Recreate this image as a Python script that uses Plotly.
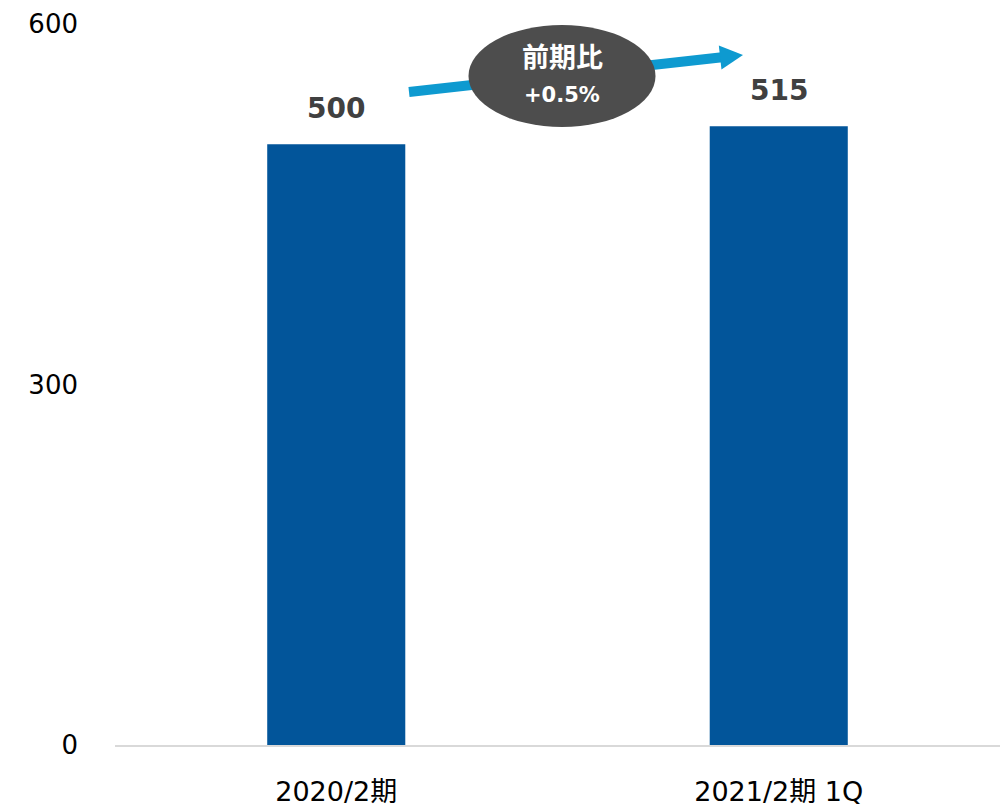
import math
import plotly.graph_objects as go

# Data
periods = ["2020/2期", "2021/2期 1Q"]
values = [500, 515]
y_ticks = [0, 300, 600]
change_title = "前期比"
change_text = "+0.5%"

BAR_COLOR = "#02559A"
LABEL_COLOR = "#404040"
ARROW_COLOR = "#0E9AD0"
BUBBLE_COLOR = "#4D4D4D"
FONT = "Verdana, 'DejaVu Sans', 'Noto Sans CJK JP', sans-serif"

W, H = 1008, 806
ML, MR, MT, MB = 115, 8, 24, 61
PW, PH = W - ML - MR, H - MT - MB


def px(x, y):
    """Pixel position on the page -> paper coordinates."""
    return (x - ML) / PW, (H - MB - y) / PH


fig = go.Figure(
    go.Bar(
        x=periods,
        y=values,
        marker=dict(color=BAR_COLOR, line=dict(width=0)),
        hoverinfo="skip",
    )
)

# Value labels above each bar
for p, v in zip(periods, values):
    fig.add_annotation(
        x=p, y=v, xref="x", yref="y",
        text=f"<b>{v}</b>", showarrow=False,
        yanchor="bottom", yshift=17,
        font=dict(family=FONT, size=28, color=LABEL_COLOR),
    )

# Growth arrow (shaft + head), then the bubble on top of it
tail = (409, 92)
tip = (743, 55)
dx, dy = tip[0] - tail[0], tip[1] - tail[1]
L = math.hypot(dx, dy)
ux, uy = dx / L, dy / L
nx, ny = -uy, ux
head_len, head_half = 23, 12
base = (tip[0] - head_len * ux, tip[1] - head_len * uy)

x0, y0 = px(*tail)
x1, y1 = px(base[0] + 2 * ux, base[1] + 2 * uy)
fig.add_shape(type="line", xref="paper", yref="paper",
              x0=x0, y0=y0, x1=x1, y1=y1,
              line=dict(color=ARROW_COLOR, width=10))

c1 = px(base[0] + head_half * nx, base[1] + head_half * ny)
c2 = px(base[0] - head_half * nx, base[1] - head_half * ny)
t = px(*tip)
fig.add_shape(type="path", xref="paper", yref="paper",
              path=f"M {c1[0]},{c1[1]} L {t[0]},{t[1]} L {c2[0]},{c2[1]} Z",
              fillcolor=ARROW_COLOR, line=dict(width=0))

e0 = px(468.5, 127)
e1 = px(655.5, 25)
fig.add_shape(type="circle", xref="paper", yref="paper",
              x0=e0[0], y0=e0[1], x1=e1[0], y1=e1[1],
              fillcolor=BUBBLE_COLOR, line=dict(width=0))

tx, ty = px(562, 58)
fig.add_annotation(x=tx, y=ty, xref="paper", yref="paper",
                   xanchor="center", yanchor="middle",
                   text=f"<b>{change_title}</b>", showarrow=False,
                   font=dict(family=FONT, size=27, color="white"))
tx, ty = px(562, 95)
fig.add_annotation(x=tx, y=ty, xref="paper", yref="paper",
                   xanchor="center", yanchor="middle",
                   text=f"<b>{change_text}</b>", showarrow=False,
                   font=dict(family=FONT, size=21, color="white"))

fig.update_layout(
    width=W, height=H,
    margin=dict(l=ML, r=MR, t=MT, b=MB, autoexpand=False),
    paper_bgcolor="white",
    plot_bgcolor="white",
    showlegend=False,
    bargap=0.688,
    font=dict(family=FONT, color="#000000"),
)
fig.update_xaxes(
    automargin=False,
    showgrid=False, showline=True, linecolor="#D9D9D9", linewidth=2,
    ticks="", tickfont=dict(size=27, color="#000000"),
    ticklabelstandoff=22,
)
fig.update_yaxes(
    automargin=False,
    range=[0, 600], tickvals=y_ticks, showgrid=False, zeroline=False,
    showline=False, ticks="", tickfont=dict(size=26, color="#000000"),
    ticklabelstandoff=36,
)

fig.write_html("out.html")
